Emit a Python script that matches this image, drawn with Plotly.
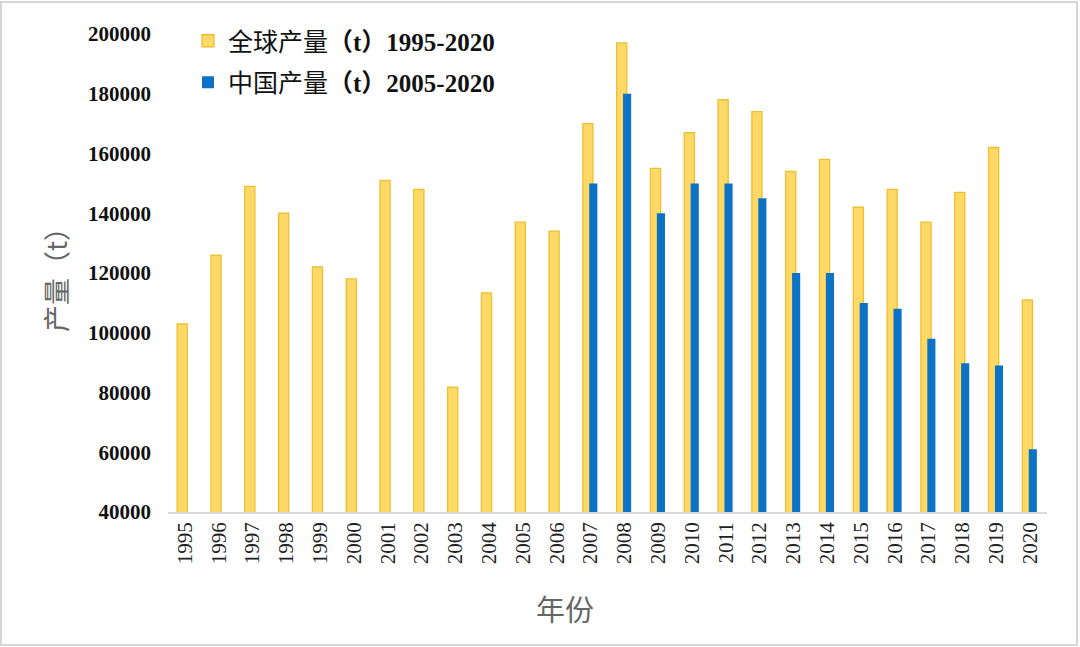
import plotly.graph_objects as go

years = [str(y) for y in range(1995, 2021)]
global_prod = [103000, 126000, 149000, 140000, 122000, 118000, 151000, 148000, 81800, 113300,
               137000, 134000, 170000, 197000, 155000, 167000, 178000, 174000, 154000, 158000,
               142000, 148000, 137000, 147000, 162000, 111000]
china_prod = [None, None, None, None, None, None, None, None, None, None,
              None, None, 150000, 180000, 140000, 150000, 150000, 145000, 120000, 120000,
              110000, 108000, 98000, 89800, 89000, 61000]
y_ticks = [40000, 60000, 80000, 100000, 120000, 140000, 160000, 180000, 200000]

serif = "Liberation Serif, Times New Roman, Noto Sans CJK SC, serif"

fig = go.Figure()
fig.add_trace(go.Bar(
    x=years, y=global_prod,
    name="全球产量<b>（t）1995-2020</b>",
    marker=dict(color="#FFD966", line=dict(color="#EDBF35", width=1.3)),
    width=0.30, offset=-0.23, legendgroup="a",
))
fig.add_trace(go.Bar(
    x=years, y=china_prod,
    name="中国产量<b>（t）2005-2020</b>",
    marker=dict(color="#0B72C6", line=dict(width=0)),
    width=0.24, offset=-0.04, legendgroup="b",
))

L, R, T, B = 168, 33, 34, 135
W, H = 1080, 647
PW, PH = W - L - R, H - T - B
fig.update_layout(
    width=W, height=H,
    barmode="overlay",
    paper_bgcolor="white", plot_bgcolor="white",
    margin=dict(l=L, r=R, t=T, b=B, pad=0),
    showlegend=True,
    legend=dict(x=(188 - L) / PW, y=1 + (T - 18) / PH, xanchor="left", yanchor="top",
                font=dict(family=serif, size=25, color="#111111"),
                bgcolor="rgba(0,0,0,0)", traceorder="grouped", tracegroupgap=6),
    font=dict(family=serif),
    xaxis=dict(
        type="category", tickangle=-90,
        tickfont=dict(family=serif, size=21, color="#222222"),
        showline=True, linecolor="#D9D9D9", linewidth=1.5,
        showgrid=False, ticks="",
    ),
    yaxis=dict(
        range=[40000, 200000], tickvals=y_ticks,
        ticktext=[f"<b>{v}</b>" for v in y_ticks],
        tickfont=dict(family=serif, size=21, color="#111111"),
        showgrid=False, zeroline=False, showline=False, ticks="",
        ticklabelstandoff=16,
        title=dict(text="产量（t）", font=dict(family="Noto Sans CJK SC", size=27, color="#666666"), standoff=12),
    ),
    annotations=[dict(text="年份", xref="paper", yref="paper",
                      x=(565 - L) / PW, y=(H - B - 608) / PH, xanchor="center", yanchor="middle",
                      showarrow=False,
                      font=dict(family="Noto Sans CJK SC", size=29, color="#666666"))],
    shapes=[dict(type="rect", xref="paper", yref="paper",
                 x0=(-L + 1) / PW, x1=1 + (R - 3) / PW,
                 y0=-(B - 2) / PH, y1=1 + (T - 2) / PH,
                 line=dict(color="#D6D6D6", width=2), layer="below")],
)

fig.write_html("out.html", config={"displayModeBar": False},
               post_script="document.body.style.margin='0';")
